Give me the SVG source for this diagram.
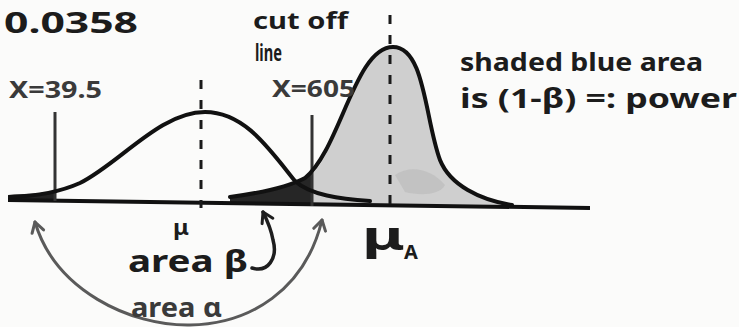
<svg xmlns="http://www.w3.org/2000/svg" width="739" height="327" viewBox="0 0 739 327">
<style>
.t{font-family:"Noto Sans","DejaVu Sans",sans-serif;fill:#1c1c1c;font-weight:bold}
.g{fill:#3a3a3a}
.curve{fill:none;stroke:#111;stroke-width:4;stroke-linejoin:round;stroke-linecap:round}
.cut{stroke:#333;stroke-width:3}
.dash{stroke:#1a1a1a;stroke-width:3;stroke-dasharray:9 11}
.arr{fill:none;stroke-linecap:round}
</style>
<defs>
<marker id="head" viewBox="-12 -8 14 16" refX="0" refY="0" markerWidth="14" markerHeight="16" markerUnits="userSpaceOnUse" orient="auto-start-reverse">
<path d="M-10,-6 L0,0 L-10,6" fill="none" stroke="context-stroke" stroke-width="3" stroke-linecap="round" stroke-linejoin="round"/>
</marker>
</defs>
<rect width="739" height="327" fill="#fbfbfa"/>
<g id="plot">
<path id="power-area" d="M312,174 C340,150 355,47 393,47 C425,47 425,120 440,160 C450,185 480,200 512,205 L312,204 Z" fill="#cfcfcf"/>
<path d="M395,175 C410,165 430,168 445,185 C440,195 420,196 405,192 Z" fill="#bcbcbc" opacity="0.7"/>
<path id="beta-dark" d="M230,197 C260,193 290,186 305,178 L312,174 L312,204 L230,202 Z" fill="#262626"/>
<path id="alpha-dark" d="M8,195 C25,194 45,193 55,191 L55,202 L8,201 Z" fill="#222"/>
<line id="baseline" x1="8" y1="200" x2="590" y2="208" stroke="#111" stroke-width="4"/>
<line class="cut" x1="55" y1="112" x2="55" y2="201"/>
<line class="cut" x1="312" y1="115" x2="312" y2="206"/>
<line class="dash" x1="201" y1="80" x2="201" y2="208"/>
<line class="dash" x1="390" y1="15" x2="390" y2="213"/>
<path id="null-curve" class="curve" d="M10,197 C40,196 60,192 80,183 C120,163 160,112 205,112 C245,112 270,150 295,181 C310,195 340,199 370,201"/>
<path id="alt-curve" class="curve" d="M230,197 C260,193 290,186 305,178 C340,150 355,47 393,47 C425,47 425,120 440,160 C450,185 480,200 512,205"/>
</g>
<g id="connectors">
<path id="arrow-beta" class="arr" d="M252,268 C268,273 278,258 273,240 C271,228 267,220 263,212" stroke="#1e1e1e" stroke-width="3.5" marker-end="url(#head)"/>
<path id="arrow-alpha" class="arr" d="M35,222 C55,290 130,326 190,325 C250,324 305,290 322,220" stroke="#5a5a5a" stroke-width="3" marker-start="url(#head)" marker-end="url(#head)"/>
</g>
<g id="labels">
<text class="t" x="4" y="33" font-size="28" textLength="134" lengthAdjust="spacingAndGlyphs">0.0358</text>
<text class="t" x="253" y="29" font-size="23" textLength="95" lengthAdjust="spacingAndGlyphs">cut off</text>
<text class="t" x="255" y="61" font-size="24" textLength="27" lengthAdjust="spacingAndGlyphs">line</text>
<text class="t g" x="272" y="97" font-size="23" textLength="83" lengthAdjust="spacingAndGlyphs">X=605</text>
<text class="t g" x="9" y="98" font-size="23" textLength="93" lengthAdjust="spacingAndGlyphs">X=39.5</text>
<text class="t" x="460" y="71" font-size="25" textLength="243" lengthAdjust="spacingAndGlyphs">shaded blue area</text>
<text class="t" x="460" y="108" font-size="26" textLength="277" lengthAdjust="spacingAndGlyphs">is (1-β) =: power</text>
<text class="t" x="173" y="235" font-size="22" textLength="16" lengthAdjust="spacingAndGlyphs">μ</text>
<text class="t" x="362" y="250" font-size="40" textLength="43" lengthAdjust="spacingAndGlyphs">μ</text>
<text class="t" x="404" y="259" font-size="20">A</text>
<text class="t" x="128" y="272" font-size="30" font-weight="600" textLength="120" lengthAdjust="spacingAndGlyphs">area β</text>
<text class="t g" x="131" y="317" font-size="26" textLength="91" lengthAdjust="spacingAndGlyphs">area α</text>
</g>
</svg>
